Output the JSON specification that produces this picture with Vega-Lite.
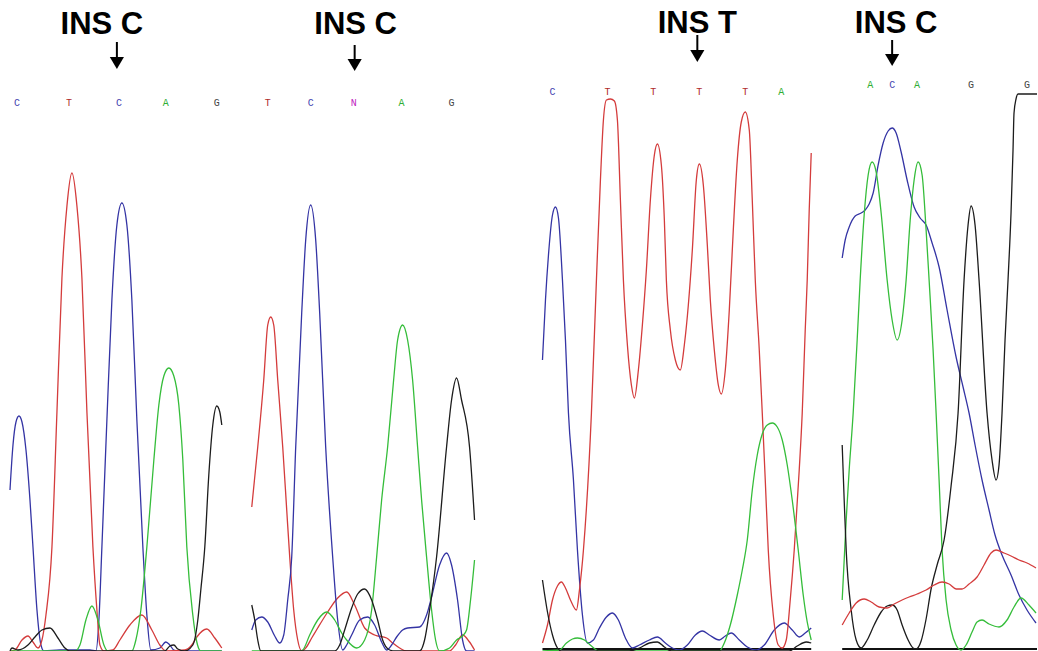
{
  "$schema": "https://vega.github.io/schema/vega-lite/v6.json",
  "width": 1038,
  "height": 651,
  "padding": 0,
  "autosize": {"type": "fit", "contains": "padding"},
  "background": "white",
  "config": {"view": {"stroke": null}},
  "resolve": {"scale": {"color": "independent"}},
  "datasets": {
    "traces": [
      {"panel":1,"base":"C","pos":10,"signal":161},{"panel":1,"base":"C","pos":13,"signal":206},{"panel":1,"base":"C","pos":16,"signal":229},{"panel":1,"base":"C","pos":19,"signal":235},{"panel":1,"base":"C","pos":22,"signal":229},{"panel":1,"base":"C","pos":26,"signal":201},{"panel":1,"base":"C","pos":30,"signal":151},{"panel":1,"base":"C","pos":33,"signal":104},{"panel":1,"base":"C","pos":37,"signal":41},{"panel":1,"base":"C","pos":41,"signal":6},{"panel":1,"base":"C","pos":44,"signal":0},{"panel":1,"base":"C","pos":60,"signal":1},{"panel":1,"base":"C","pos":90,"signal":1},{"panel":1,"base":"C","pos":96,"signal":0},{"panel":1,"base":"C","pos":99,"signal":31},{"panel":1,"base":"C","pos":102,"signal":104},{"panel":1,"base":"C","pos":107,"signal":231},{"panel":1,"base":"C","pos":112,"signal":351},{"panel":1,"base":"C","pos":117,"signal":426},{"panel":1,"base":"C","pos":122,"signal":448},{"panel":1,"base":"C","pos":127,"signal":426},{"panel":1,"base":"C","pos":132,"signal":351},{"panel":1,"base":"C","pos":137,"signal":231},{"panel":1,"base":"C","pos":143,"signal":104},{"panel":1,"base":"C","pos":147,"signal":36},{"panel":1,"base":"C","pos":151,"signal":1},{"panel":1,"base":"C","pos":160,"signal":3},{"panel":1,"base":"C","pos":166,"signal":9},{"panel":1,"base":"C","pos":170,"signal":6},{"panel":1,"base":"C","pos":174,"signal":1},{"panel":1,"base":"C","pos":180,"signal":0},{"panel":1,"base":"C","pos":222,"signal":0},

      {"panel":1,"base":"T","pos":10,"signal":0},{"panel":1,"base":"T","pos":15,"signal":1},{"panel":1,"base":"T","pos":22,"signal":11},{"panel":1,"base":"T","pos":28,"signal":15},{"panel":1,"base":"T","pos":33,"signal":9},{"panel":1,"base":"T","pos":38,"signal":3},{"panel":1,"base":"T","pos":42,"signal":11},{"panel":1,"base":"T","pos":46,"signal":36},{"panel":1,"base":"T","pos":52,"signal":104},{"panel":1,"base":"T","pos":57,"signal":239},{"panel":1,"base":"T","pos":62,"signal":373},{"panel":1,"base":"T","pos":67,"signal":445},{"panel":1,"base":"T","pos":72,"signal":478},{"panel":1,"base":"T","pos":77,"signal":445},{"panel":1,"base":"T","pos":82,"signal":373},{"panel":1,"base":"T","pos":87,"signal":239},{"panel":1,"base":"T","pos":93,"signal":104},{"panel":1,"base":"T","pos":97,"signal":41},{"panel":1,"base":"T","pos":100,"signal":6},{"panel":1,"base":"T","pos":104,"signal":0},{"panel":1,"base":"T","pos":113,"signal":1},{"panel":1,"base":"T","pos":120,"signal":11},{"panel":1,"base":"T","pos":130,"signal":26},{"panel":1,"base":"T","pos":142,"signal":36},{"panel":1,"base":"T","pos":152,"signal":21},{"panel":1,"base":"T","pos":160,"signal":6},{"panel":1,"base":"T","pos":166,"signal":0},{"panel":1,"base":"T","pos":185,"signal":1},{"panel":1,"base":"T","pos":192,"signal":6},{"panel":1,"base":"T","pos":197,"signal":14},{"panel":1,"base":"T","pos":207,"signal":22},{"panel":1,"base":"T","pos":215,"signal":13},{"panel":1,"base":"T","pos":222,"signal":3},

      {"panel":1,"base":"A","pos":10,"signal":0},{"panel":1,"base":"A","pos":75,"signal":0},{"panel":1,"base":"A","pos":80,"signal":6},{"panel":1,"base":"A","pos":86,"signal":31},{"panel":1,"base":"A","pos":92,"signal":45},{"panel":1,"base":"A","pos":98,"signal":31},{"panel":1,"base":"A","pos":104,"signal":6},{"panel":1,"base":"A","pos":108,"signal":0},{"panel":1,"base":"A","pos":132,"signal":0},{"panel":1,"base":"A","pos":136,"signal":11},{"panel":1,"base":"A","pos":141,"signal":41},{"panel":1,"base":"A","pos":147,"signal":104},{"panel":1,"base":"A","pos":154,"signal":191},{"panel":1,"base":"A","pos":159,"signal":246},{"panel":1,"base":"A","pos":164,"signal":275},{"panel":1,"base":"A","pos":169,"signal":283},{"panel":1,"base":"A","pos":174,"signal":275},{"panel":1,"base":"A","pos":179,"signal":246},{"panel":1,"base":"A","pos":183,"signal":191},{"panel":1,"base":"A","pos":187,"signal":104},{"panel":1,"base":"A","pos":193,"signal":36},{"panel":1,"base":"A","pos":197,"signal":9},{"panel":1,"base":"A","pos":201,"signal":0},{"panel":1,"base":"A","pos":222,"signal":0},

      {"panel":1,"base":"G","pos":10,"signal":0},{"panel":1,"base":"G","pos":12,"signal":3},{"panel":1,"base":"G","pos":18,"signal":1},{"panel":1,"base":"G","pos":28,"signal":6},{"panel":1,"base":"G","pos":35,"signal":14},{"panel":1,"base":"G","pos":42,"signal":21},{"panel":1,"base":"G","pos":50,"signal":23},{"panel":1,"base":"G","pos":58,"signal":13},{"panel":1,"base":"G","pos":65,"signal":3},{"panel":1,"base":"G","pos":70,"signal":0},{"panel":1,"base":"G","pos":165,"signal":0},{"panel":1,"base":"G","pos":170,"signal":5},{"panel":1,"base":"G","pos":174,"signal":6},{"panel":1,"base":"G","pos":178,"signal":2},{"panel":1,"base":"G","pos":185,"signal":0},{"panel":1,"base":"G","pos":193,"signal":6},{"panel":1,"base":"G","pos":198,"signal":31},{"panel":1,"base":"G","pos":201,"signal":61},{"panel":1,"base":"G","pos":205,"signal":104},{"panel":1,"base":"G","pos":209,"signal":176},{"panel":1,"base":"G","pos":213,"signal":226},{"panel":1,"base":"G","pos":217,"signal":245},{"panel":1,"base":"G","pos":220,"signal":239},{"panel":1,"base":"G","pos":222,"signal":226},

      {"panel":2,"base":"T","pos":252,"signal":144},{"panel":2,"base":"T","pos":258,"signal":204},{"panel":2,"base":"T","pos":264,"signal":271},{"panel":2,"base":"T","pos":268,"signal":326},{"panel":2,"base":"T","pos":271,"signal":334},{"panel":2,"base":"T","pos":274,"signal":326},{"panel":2,"base":"T","pos":278,"signal":271},{"panel":2,"base":"T","pos":283,"signal":204},{"panel":2,"base":"T","pos":287,"signal":141},{"panel":2,"base":"T","pos":290,"signal":94},{"panel":2,"base":"T","pos":294,"signal":41},{"panel":2,"base":"T","pos":298,"signal":11},{"panel":2,"base":"T","pos":302,"signal":0},{"panel":2,"base":"T","pos":306,"signal":3},{"panel":2,"base":"T","pos":312,"signal":13},{"panel":2,"base":"T","pos":318,"signal":23},{"panel":2,"base":"T","pos":328,"signal":39},{"panel":2,"base":"T","pos":338,"signal":53},{"panel":2,"base":"T","pos":347,"signal":59},{"panel":2,"base":"T","pos":355,"signal":46},{"panel":2,"base":"T","pos":365,"signal":23},{"panel":2,"base":"T","pos":375,"signal":16},{"panel":2,"base":"T","pos":387,"signal":13},{"panel":2,"base":"T","pos":393,"signal":8},{"panel":2,"base":"T","pos":400,"signal":3},{"panel":2,"base":"T","pos":407,"signal":0},{"panel":2,"base":"T","pos":450,"signal":0},{"panel":2,"base":"T","pos":456,"signal":6},{"panel":2,"base":"T","pos":463,"signal":16},{"panel":2,"base":"T","pos":470,"signal":9},{"panel":2,"base":"T","pos":475,"signal":1},

      {"panel":2,"base":"C","pos":252,"signal":21},{"panel":2,"base":"C","pos":256,"signal":31},{"panel":2,"base":"C","pos":262,"signal":34},{"panel":2,"base":"C","pos":268,"signal":29},{"panel":2,"base":"C","pos":275,"signal":15},{"panel":2,"base":"C","pos":280,"signal":8},{"panel":2,"base":"C","pos":284,"signal":16},{"panel":2,"base":"C","pos":288,"signal":51},{"panel":2,"base":"C","pos":292,"signal":94},{"panel":2,"base":"C","pos":296,"signal":204},{"panel":2,"base":"C","pos":302,"signal":338},{"panel":2,"base":"C","pos":306,"signal":411},{"panel":2,"base":"C","pos":311,"signal":446},{"panel":2,"base":"C","pos":316,"signal":411},{"panel":2,"base":"C","pos":320,"signal":338},{"panel":2,"base":"C","pos":326,"signal":204},{"panel":2,"base":"C","pos":333,"signal":94},{"panel":2,"base":"C","pos":338,"signal":31},{"panel":2,"base":"C","pos":343,"signal":1},{"panel":2,"base":"C","pos":347,"signal":6},{"panel":2,"base":"C","pos":352,"signal":16},{"panel":2,"base":"C","pos":360,"signal":31},{"panel":2,"base":"C","pos":368,"signal":34},{"panel":2,"base":"C","pos":375,"signal":26},{"panel":2,"base":"C","pos":382,"signal":9},{"panel":2,"base":"C","pos":387,"signal":1},{"panel":2,"base":"C","pos":392,"signal":6},{"panel":2,"base":"C","pos":397,"signal":14},{"panel":2,"base":"C","pos":403,"signal":21},{"panel":2,"base":"C","pos":408,"signal":23},{"panel":2,"base":"C","pos":420,"signal":24},{"panel":2,"base":"C","pos":427,"signal":36},{"panel":2,"base":"C","pos":432,"signal":54},{"panel":2,"base":"C","pos":440,"signal":86},{"panel":2,"base":"C","pos":447,"signal":98},{"panel":2,"base":"C","pos":452,"signal":86},{"panel":2,"base":"C","pos":458,"signal":51},{"panel":2,"base":"C","pos":463,"signal":11},{"panel":2,"base":"C","pos":467,"signal":0},{"panel":2,"base":"C","pos":475,"signal":0},

      {"panel":2,"base":"A","pos":252,"signal":0},{"panel":2,"base":"A","pos":300,"signal":0},{"panel":2,"base":"A","pos":303,"signal":1},{"panel":2,"base":"A","pos":310,"signal":16},{"panel":2,"base":"A","pos":318,"signal":31},{"panel":2,"base":"A","pos":327,"signal":39},{"panel":2,"base":"A","pos":335,"signal":31},{"panel":2,"base":"A","pos":342,"signal":18},{"panel":2,"base":"A","pos":347,"signal":11},{"panel":2,"base":"A","pos":357,"signal":3},{"panel":2,"base":"A","pos":365,"signal":11},{"panel":2,"base":"A","pos":372,"signal":41},{"panel":2,"base":"A","pos":377,"signal":94},{"panel":2,"base":"A","pos":382,"signal":151},{"panel":2,"base":"A","pos":388,"signal":204},{"panel":2,"base":"A","pos":394,"signal":271},{"panel":2,"base":"A","pos":398,"signal":311},{"panel":2,"base":"A","pos":403,"signal":326},{"panel":2,"base":"A","pos":408,"signal":311},{"panel":2,"base":"A","pos":413,"signal":271},{"panel":2,"base":"A","pos":418,"signal":204},{"panel":2,"base":"A","pos":422,"signal":151},{"panel":2,"base":"A","pos":427,"signal":94},{"panel":2,"base":"A","pos":432,"signal":41},{"panel":2,"base":"A","pos":436,"signal":11},{"panel":2,"base":"A","pos":440,"signal":0},{"panel":2,"base":"A","pos":450,"signal":3},{"panel":2,"base":"A","pos":457,"signal":11},{"panel":2,"base":"A","pos":463,"signal":15},{"panel":2,"base":"A","pos":467,"signal":21},{"panel":2,"base":"A","pos":471,"signal":51},{"panel":2,"base":"A","pos":475,"signal":91},

      {"panel":2,"base":"G","pos":252,"signal":46},{"panel":2,"base":"G","pos":255,"signal":31},{"panel":2,"base":"G","pos":258,"signal":11},{"panel":2,"base":"G","pos":261,"signal":0},{"panel":2,"base":"G","pos":335,"signal":0},{"panel":2,"base":"G","pos":340,"signal":6},{"panel":2,"base":"G","pos":345,"signal":21},{"panel":2,"base":"G","pos":352,"signal":43},{"panel":2,"base":"G","pos":358,"signal":57},{"panel":2,"base":"G","pos":365,"signal":62},{"panel":2,"base":"G","pos":372,"signal":51},{"panel":2,"base":"G","pos":378,"signal":31},{"panel":2,"base":"G","pos":383,"signal":11},{"panel":2,"base":"G","pos":390,"signal":1},{"panel":2,"base":"G","pos":396,"signal":0},{"panel":2,"base":"G","pos":420,"signal":0},{"panel":2,"base":"G","pos":425,"signal":11},{"panel":2,"base":"G","pos":430,"signal":41},{"panel":2,"base":"G","pos":437,"signal":94},{"panel":2,"base":"G","pos":447,"signal":204},{"panel":2,"base":"G","pos":452,"signal":251},{"panel":2,"base":"G","pos":457,"signal":273},{"panel":2,"base":"G","pos":462,"signal":251},{"panel":2,"base":"G","pos":470,"signal":204},{"panel":2,"base":"G","pos":475,"signal":131},

      {"panel":3,"base":"C","pos":543,"signal":291},{"panel":3,"base":"C","pos":546,"signal":351},{"panel":3,"base":"C","pos":549,"signal":396},{"panel":3,"base":"C","pos":553,"signal":436},{"panel":3,"base":"C","pos":556,"signal":444},{"panel":3,"base":"C","pos":559,"signal":433},{"panel":3,"base":"C","pos":563,"signal":371},{"panel":3,"base":"C","pos":566,"signal":311},{"panel":3,"base":"C","pos":569,"signal":238},{"panel":3,"base":"C","pos":574,"signal":171},{"panel":3,"base":"C","pos":578,"signal":101},{"panel":3,"base":"C","pos":583,"signal":36},{"panel":3,"base":"C","pos":588,"signal":8},{"panel":3,"base":"C","pos":594,"signal":11},{"panel":3,"base":"C","pos":600,"signal":23},{"panel":3,"base":"C","pos":607,"signal":34},{"panel":3,"base":"C","pos":613,"signal":38},{"panel":3,"base":"C","pos":619,"signal":31},{"panel":3,"base":"C","pos":626,"signal":13},{"panel":3,"base":"C","pos":633,"signal":3},{"panel":3,"base":"C","pos":640,"signal":6},{"panel":3,"base":"C","pos":650,"signal":11},{"panel":3,"base":"C","pos":658,"signal":14},{"panel":3,"base":"C","pos":666,"signal":8},{"panel":3,"base":"C","pos":673,"signal":3},{"panel":3,"base":"C","pos":680,"signal":1},{"panel":3,"base":"C","pos":688,"signal":6},{"panel":3,"base":"C","pos":696,"signal":16},{"panel":3,"base":"C","pos":703,"signal":20},{"panel":3,"base":"C","pos":710,"signal":16},{"panel":3,"base":"C","pos":720,"signal":11},{"panel":3,"base":"C","pos":726,"signal":15},{"panel":3,"base":"C","pos":732,"signal":18},{"panel":3,"base":"C","pos":740,"signal":11},{"panel":3,"base":"C","pos":748,"signal":4},{"panel":3,"base":"C","pos":757,"signal":1},{"panel":3,"base":"C","pos":765,"signal":6},{"panel":3,"base":"C","pos":775,"signal":21},{"panel":3,"base":"C","pos":785,"signal":28},{"panel":3,"base":"C","pos":793,"signal":21},{"panel":3,"base":"C","pos":800,"signal":14},{"panel":3,"base":"C","pos":806,"signal":18},{"panel":3,"base":"C","pos":812,"signal":23},

      {"panel":3,"base":"T","pos":543,"signal":8},{"panel":3,"base":"T","pos":548,"signal":26},{"panel":3,"base":"T","pos":553,"signal":51},{"panel":3,"base":"T","pos":558,"signal":65},{"panel":3,"base":"T","pos":562,"signal":69},{"panel":3,"base":"T","pos":566,"signal":63},{"panel":3,"base":"T","pos":571,"signal":51},{"panel":3,"base":"T","pos":577,"signal":41},{"panel":3,"base":"T","pos":580,"signal":61},{"panel":3,"base":"T","pos":584,"signal":101},{"panel":3,"base":"T","pos":592,"signal":238},{"panel":3,"base":"T","pos":597,"signal":371},{"panel":3,"base":"T","pos":601,"signal":471},{"panel":3,"base":"T","pos":604,"signal":531},{"panel":3,"base":"T","pos":607,"signal":551},{"panel":3,"base":"T","pos":611,"signal":552},{"panel":3,"base":"T","pos":615,"signal":550},{"panel":3,"base":"T","pos":618,"signal":531},{"panel":3,"base":"T","pos":621,"signal":451},{"panel":3,"base":"T","pos":624,"signal":371},{"panel":3,"base":"T","pos":628,"signal":306},{"panel":3,"base":"T","pos":632,"signal":266},{"panel":3,"base":"T","pos":635,"signal":253},{"panel":3,"base":"T","pos":639,"signal":281},{"panel":3,"base":"T","pos":643,"signal":326},{"panel":3,"base":"T","pos":647,"signal":381},{"panel":3,"base":"T","pos":651,"signal":451},{"panel":3,"base":"T","pos":655,"signal":496},{"panel":3,"base":"T","pos":658,"signal":507},{"panel":3,"base":"T","pos":662,"signal":486},{"panel":3,"base":"T","pos":665,"signal":431},{"panel":3,"base":"T","pos":667,"signal":371},{"panel":3,"base":"T","pos":671,"signal":321},{"panel":3,"base":"T","pos":676,"signal":291},{"panel":3,"base":"T","pos":681,"signal":281},{"panel":3,"base":"T","pos":685,"signal":306},{"panel":3,"base":"T","pos":689,"signal":346},{"panel":3,"base":"T","pos":693,"signal":401},{"panel":3,"base":"T","pos":697,"signal":471},{"panel":3,"base":"T","pos":700,"signal":487},{"panel":3,"base":"T","pos":704,"signal":466},{"panel":3,"base":"T","pos":708,"signal":406},{"panel":3,"base":"T","pos":711,"signal":351},{"panel":3,"base":"T","pos":715,"signal":301},{"panel":3,"base":"T","pos":719,"signal":266},{"panel":3,"base":"T","pos":722,"signal":257},{"panel":3,"base":"T","pos":726,"signal":281},{"panel":3,"base":"T","pos":730,"signal":341},{"panel":3,"base":"T","pos":734,"signal":421},{"panel":3,"base":"T","pos":738,"signal":491},{"panel":3,"base":"T","pos":742,"signal":529},{"panel":3,"base":"T","pos":746,"signal":539},{"panel":3,"base":"T","pos":750,"signal":521},{"panel":3,"base":"T","pos":753,"signal":451},{"panel":3,"base":"T","pos":756,"signal":371},{"panel":3,"base":"T","pos":760,"signal":301},{"panel":3,"base":"T","pos":763,"signal":238},{"panel":3,"base":"T","pos":766,"signal":171},{"panel":3,"base":"T","pos":769,"signal":101},{"panel":3,"base":"T","pos":774,"signal":36},{"panel":3,"base":"T","pos":779,"signal":6},{"panel":3,"base":"T","pos":783,"signal":3},{"panel":3,"base":"T","pos":787,"signal":11},{"panel":3,"base":"T","pos":791,"signal":51},{"panel":3,"base":"T","pos":795,"signal":101},{"panel":3,"base":"T","pos":800,"signal":181},{"panel":3,"base":"T","pos":803,"signal":238},{"panel":3,"base":"T","pos":806,"signal":321},{"panel":3,"base":"T","pos":808,"signal":371},{"panel":3,"base":"T","pos":810,"signal":441},{"panel":3,"base":"T","pos":812,"signal":498},

      {"panel":3,"base":"A","pos":543,"signal":0},{"panel":3,"base":"A","pos":560,"signal":1},{"panel":3,"base":"A","pos":567,"signal":8},{"panel":3,"base":"A","pos":573,"signal":12},{"panel":3,"base":"A","pos":578,"signal":13},{"panel":3,"base":"A","pos":585,"signal":11},{"panel":3,"base":"A","pos":592,"signal":5},{"panel":3,"base":"A","pos":600,"signal":0},{"panel":3,"base":"A","pos":720,"signal":0},{"panel":3,"base":"A","pos":725,"signal":8},{"panel":3,"base":"A","pos":731,"signal":26},{"panel":3,"base":"A","pos":738,"signal":56},{"panel":3,"base":"A","pos":743,"signal":81},{"panel":3,"base":"A","pos":748,"signal":111},{"panel":3,"base":"A","pos":753,"signal":161},{"panel":3,"base":"A","pos":758,"signal":196},{"panel":3,"base":"A","pos":763,"signal":217},{"panel":3,"base":"A","pos":768,"signal":226},{"panel":3,"base":"A","pos":773,"signal":228},{"panel":3,"base":"A","pos":778,"signal":224},{"panel":3,"base":"A","pos":783,"signal":211},{"panel":3,"base":"A","pos":788,"signal":186},{"panel":3,"base":"A","pos":793,"signal":151},{"panel":3,"base":"A","pos":799,"signal":101},{"panel":3,"base":"A","pos":804,"signal":56},{"panel":3,"base":"A","pos":808,"signal":29},{"panel":3,"base":"A","pos":812,"signal":11},

      {"panel":3,"base":"G","pos":543,"signal":71},{"panel":3,"base":"G","pos":548,"signal":39},{"panel":3,"base":"G","pos":553,"signal":16},{"panel":3,"base":"G","pos":558,"signal":3},{"panel":3,"base":"G","pos":562,"signal":0},{"panel":3,"base":"G","pos":630,"signal":0},{"panel":3,"base":"G","pos":640,"signal":3},{"panel":3,"base":"G","pos":650,"signal":8},{"panel":3,"base":"G","pos":658,"signal":9},{"panel":3,"base":"G","pos":665,"signal":4},{"panel":3,"base":"G","pos":672,"signal":0},{"panel":3,"base":"G","pos":790,"signal":0},{"panel":3,"base":"G","pos":798,"signal":5},{"panel":3,"base":"G","pos":807,"signal":9},{"panel":3,"base":"G","pos":812,"signal":8},

      {"panel":4,"base":"C","pos":843,"signal":393},{"panel":4,"base":"C","pos":846,"signal":411},{"panel":4,"base":"C","pos":850,"signal":424},{"panel":4,"base":"C","pos":856,"signal":435},{"panel":4,"base":"C","pos":862,"signal":438},{"panel":4,"base":"C","pos":866,"signal":441},{"panel":4,"base":"C","pos":870,"signal":447},{"panel":4,"base":"C","pos":874,"signal":458},{"panel":4,"base":"C","pos":879,"signal":486},{"panel":4,"base":"C","pos":884,"signal":508},{"panel":4,"base":"C","pos":889,"signal":520},{"panel":4,"base":"C","pos":893,"signal":523},{"panel":4,"base":"C","pos":897,"signal":518},{"panel":4,"base":"C","pos":902,"signal":499},{"panel":4,"base":"C","pos":908,"signal":471},{"panel":4,"base":"C","pos":915,"signal":444},{"panel":4,"base":"C","pos":921,"signal":433},{"panel":4,"base":"C","pos":927,"signal":426},{"panel":4,"base":"C","pos":933,"signal":408},{"panel":4,"base":"C","pos":940,"signal":384},{"panel":4,"base":"C","pos":948,"signal":341},{"panel":4,"base":"C","pos":957,"signal":294},{"panel":4,"base":"C","pos":964,"signal":264},{"panel":4,"base":"C","pos":970,"signal":238},{"panel":4,"base":"C","pos":976,"signal":206},{"panel":4,"base":"C","pos":983,"signal":171},{"panel":4,"base":"C","pos":990,"signal":141},{"panel":4,"base":"C","pos":996,"signal":116},{"panel":4,"base":"C","pos":1003,"signal":96},{"panel":4,"base":"C","pos":1012,"signal":76},{"panel":4,"base":"C","pos":1020,"signal":56},{"panel":4,"base":"C","pos":1028,"signal":41},{"panel":4,"base":"C","pos":1037,"signal":28},

      {"panel":4,"base":"A","pos":843,"signal":51},{"panel":4,"base":"A","pos":845,"signal":91},{"panel":4,"base":"A","pos":847,"signal":131},{"panel":4,"base":"A","pos":850,"signal":181},{"panel":4,"base":"A","pos":854,"signal":238},{"panel":4,"base":"A","pos":858,"signal":311},{"panel":4,"base":"A","pos":861,"signal":371},{"panel":4,"base":"A","pos":865,"signal":436},{"panel":4,"base":"A","pos":869,"signal":476},{"panel":4,"base":"A","pos":873,"signal":489},{"panel":4,"base":"A","pos":877,"signal":479},{"panel":4,"base":"A","pos":882,"signal":438},{"panel":4,"base":"A","pos":888,"signal":371},{"panel":4,"base":"A","pos":893,"signal":331},{"panel":4,"base":"A","pos":898,"signal":311},{"panel":4,"base":"A","pos":903,"signal":331},{"panel":4,"base":"A","pos":907,"signal":371},{"panel":4,"base":"A","pos":911,"signal":430},{"panel":4,"base":"A","pos":915,"signal":471},{"panel":4,"base":"A","pos":919,"signal":489},{"panel":4,"base":"A","pos":923,"signal":476},{"panel":4,"base":"A","pos":927,"signal":421},{"panel":4,"base":"A","pos":930,"signal":371},{"panel":4,"base":"A","pos":934,"signal":301},{"panel":4,"base":"A","pos":937,"signal":238},{"panel":4,"base":"A","pos":940,"signal":171},{"panel":4,"base":"A","pos":943,"signal":101},{"panel":4,"base":"A","pos":947,"signal":51},{"panel":4,"base":"A","pos":952,"signal":21},{"panel":4,"base":"A","pos":957,"signal":6},{"panel":4,"base":"A","pos":962,"signal":1},{"panel":4,"base":"A","pos":967,"signal":6},{"panel":4,"base":"A","pos":973,"signal":19},{"panel":4,"base":"A","pos":978,"signal":29},{"panel":4,"base":"A","pos":983,"signal":31},{"panel":4,"base":"A","pos":990,"signal":27},{"panel":4,"base":"A","pos":1000,"signal":24},{"panel":4,"base":"A","pos":1008,"signal":31},{"panel":4,"base":"A","pos":1015,"signal":44},{"panel":4,"base":"A","pos":1022,"signal":53},{"panel":4,"base":"A","pos":1030,"signal":46},{"panel":4,"base":"A","pos":1037,"signal":38},

      {"panel":4,"base":"G","pos":843,"signal":206},{"panel":4,"base":"G","pos":845,"signal":151},{"panel":4,"base":"G","pos":847,"signal":101},{"panel":4,"base":"G","pos":852,"signal":41},{"panel":4,"base":"G","pos":857,"signal":11},{"panel":4,"base":"G","pos":862,"signal":3},{"panel":4,"base":"G","pos":868,"signal":11},{"panel":4,"base":"G","pos":875,"signal":26},{"panel":4,"base":"G","pos":882,"signal":39},{"panel":4,"base":"G","pos":888,"signal":45},{"panel":4,"base":"G","pos":893,"signal":46},{"panel":4,"base":"G","pos":898,"signal":41},{"panel":4,"base":"G","pos":903,"signal":26},{"panel":4,"base":"G","pos":909,"signal":11},{"panel":4,"base":"G","pos":914,"signal":3},{"panel":4,"base":"G","pos":917,"signal":2},{"panel":4,"base":"G","pos":922,"signal":10},{"panel":4,"base":"G","pos":927,"signal":32},{"panel":4,"base":"G","pos":932,"signal":62},{"panel":4,"base":"G","pos":938,"signal":86},{"panel":4,"base":"G","pos":945,"signal":111},{"panel":4,"base":"G","pos":952,"signal":165},{"panel":4,"base":"G","pos":959,"signal":238},{"panel":4,"base":"G","pos":965,"signal":371},{"panel":4,"base":"G","pos":969,"signal":426},{"panel":4,"base":"G","pos":972,"signal":445},{"panel":4,"base":"G","pos":976,"signal":426},{"panel":4,"base":"G","pos":980,"signal":371},{"panel":4,"base":"G","pos":988,"signal":238},{"panel":4,"base":"G","pos":993,"signal":191},{"panel":4,"base":"G","pos":997,"signal":171},{"panel":4,"base":"G","pos":1000,"signal":186},{"panel":4,"base":"G","pos":1003,"signal":238},{"panel":4,"base":"G","pos":1006,"signal":311},{"panel":4,"base":"G","pos":1009,"signal":371},{"panel":4,"base":"G","pos":1012,"signal":438},{"panel":4,"base":"G","pos":1014,"signal":501},{"panel":4,"base":"G","pos":1015,"signal":538},{"panel":4,"base":"G","pos":1017,"signal":552},{"panel":4,"base":"G","pos":1019,"signal":557},{"panel":4,"base":"G","pos":1038,"signal":557},

      {"panel":4,"base":"T","pos":843,"signal":26},{"panel":4,"base":"T","pos":850,"signal":38},{"panel":4,"base":"T","pos":857,"signal":48},{"panel":4,"base":"T","pos":865,"signal":52},{"panel":4,"base":"T","pos":872,"signal":49},{"panel":4,"base":"T","pos":880,"signal":44},{"panel":4,"base":"T","pos":888,"signal":43},{"panel":4,"base":"T","pos":895,"signal":47},{"panel":4,"base":"T","pos":903,"signal":51},{"panel":4,"base":"T","pos":910,"signal":54},{"panel":4,"base":"T","pos":918,"signal":57},{"panel":4,"base":"T","pos":927,"signal":61},{"panel":4,"base":"T","pos":935,"signal":66},{"panel":4,"base":"T","pos":943,"signal":69},{"panel":4,"base":"T","pos":950,"signal":67},{"panel":4,"base":"T","pos":957,"signal":62},{"panel":4,"base":"T","pos":963,"signal":62},{"panel":4,"base":"T","pos":970,"signal":67},{"panel":4,"base":"T","pos":978,"signal":74},{"panel":4,"base":"T","pos":985,"signal":86},{"panel":4,"base":"T","pos":992,"signal":98},{"panel":4,"base":"T","pos":997,"signal":101},{"panel":4,"base":"T","pos":1005,"signal":98},{"panel":4,"base":"T","pos":1012,"signal":95},{"panel":4,"base":"T","pos":1020,"signal":91},{"panel":4,"base":"T","pos":1028,"signal":88},{"panel":4,"base":"T","pos":1037,"signal":83}
    ],
    "calls": [
      {"panel":1,"base":"C","pos":17,"signal":548},{"panel":1,"base":"T","pos":69,"signal":548},{"panel":1,"base":"C","pos":119,"signal":548},{"panel":1,"base":"A","pos":166,"signal":548},{"panel":1,"base":"G","pos":217,"signal":548},
      {"panel":2,"base":"T","pos":268,"signal":548},{"panel":2,"base":"C","pos":311,"signal":548},{"panel":2,"base":"N","pos":354,"signal":548},{"panel":2,"base":"A","pos":402,"signal":548},{"panel":2,"base":"G","pos":452,"signal":548},
      {"panel":3,"base":"C","pos":553,"signal":559},{"panel":3,"base":"T","pos":608,"signal":559},{"panel":3,"base":"T","pos":654,"signal":559},{"panel":3,"base":"T","pos":700,"signal":559},{"panel":3,"base":"T","pos":746,"signal":559},{"panel":3,"base":"A","pos":782,"signal":559},
      {"panel":4,"base":"A","pos":871,"signal":566},{"panel":4,"base":"C","pos":893,"signal":566},{"panel":4,"base":"A","pos":918,"signal":566},{"panel":4,"base":"G","pos":972,"signal":566},{"panel":4,"base":"G","pos":1028,"signal":566}
    ],
    "notes": [
      {"panel":1,"label":"INS C","pos":102,"signal":626,"arrowPos":117,"top":609,"bottom":593,"tip":588},
      {"panel":2,"label":"INS C","pos":356,"signal":626,"arrowPos":355,"top":606,"bottom":591,"tip":586},
      {"panel":3,"label":"INS T","pos":698,"signal":627,"arrowPos":698,"top":616,"bottom":601,"tip":595},
      {"panel":4,"label":"INS C","pos":897,"signal":627,"arrowPos":893,"top":611,"bottom":594,"tip":591}
    ],
    "baselines": [
      {"panel":3,"start":543,"end":812,"signal":2},
      {"panel":4,"start":843,"end":1038,"signal":2}
    ]
  },
  "layer": [
    {
      "data": {"name": "baselines"},
      "mark": {"type": "rule", "color": "#111111", "strokeWidth": 2},
      "encoding": {
        "x": {"field": "start", "type": "quantitative", "scale": {"domain": [0, 1038], "nice": false, "zero": false}, "axis": null},
        "x2": {"field": "end"},
        "y": {"field": "signal", "type": "quantitative", "scale": {"domain": [0, 651], "nice": false}, "axis": null}
      }
    },
    {
      "data": {"name": "traces"},
      "mark": {"type": "line", "interpolate": "monotone", "strokeWidth": 1.3, "clip": true},
      "encoding": {
        "x": {"field": "pos", "type": "quantitative"},
        "y": {"field": "signal", "type": "quantitative"},
        "color": {"field": "base", "type": "nominal", "legend": null,
          "scale": {"domain": ["A", "C", "G", "T", "N"], "range": ["#35bd3a", "#3434a4", "#1c1c1c", "#d43c3c", "#c030c0"]}},
        "detail": {"field": "panel", "type": "nominal"}
      }
    },
    {
      "data": {"name": "calls"},
      "mark": {"type": "text", "font": "Liberation Mono", "fontSize": 10, "align": "center", "baseline": "middle"},
      "encoding": {
        "x": {"field": "pos", "type": "quantitative"},
        "y": {"field": "signal", "type": "quantitative"},
        "text": {"field": "base"},
        "color": {"field": "base", "type": "nominal", "legend": null,
          "scale": {"domain": ["A", "C", "G", "T", "N"], "range": ["#2fae34", "#4444b0", "#444444", "#b02a2a", "#c020c0"]}}
      }
    },
    {
      "data": {"name": "notes"},
      "mark": {"type": "text", "font": "Liberation Sans", "fontWeight": "bold", "fontSize": 31, "align": "center", "baseline": "middle", "color": "#000000"},
      "encoding": {
        "x": {"field": "pos", "type": "quantitative"},
        "y": {"field": "signal", "type": "quantitative"},
        "text": {"field": "label"}
      }
    },
    {
      "data": {"name": "notes"},
      "mark": {"type": "rule", "color": "#000000", "strokeWidth": 2},
      "encoding": {
        "x": {"field": "arrowPos", "type": "quantitative"},
        "y": {"field": "top", "type": "quantitative"},
        "y2": {"field": "bottom"}
      }
    },
    {
      "data": {"name": "notes"},
      "mark": {"type": "point", "shape": "triangle-down", "filled": true, "color": "#000000", "size": 200, "opacity": 1},
      "encoding": {
        "x": {"field": "arrowPos", "type": "quantitative"},
        "y": {"field": "tip", "type": "quantitative"}
      }
    }
  ]
}
